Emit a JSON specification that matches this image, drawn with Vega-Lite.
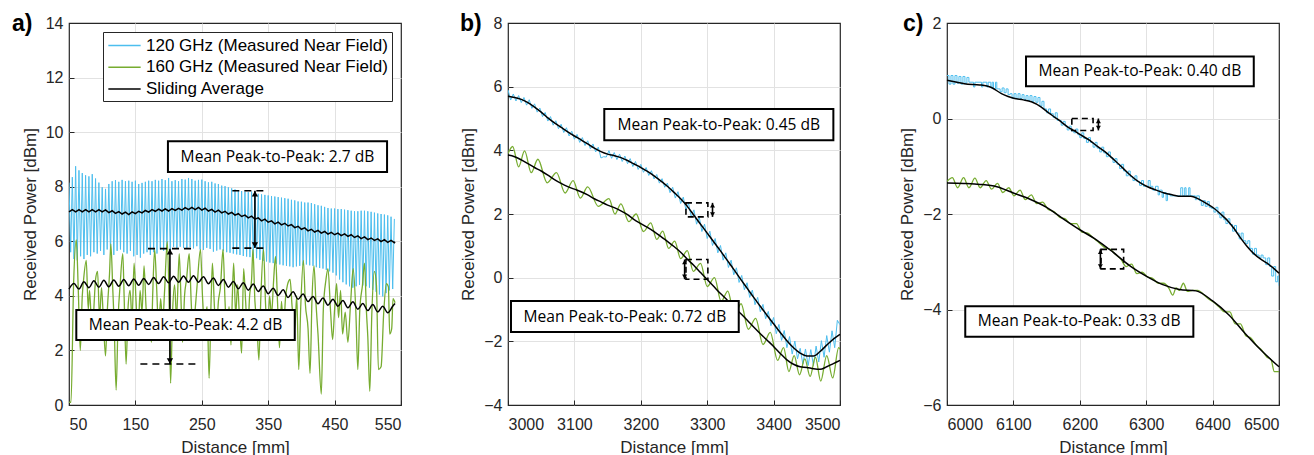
{
"$schema":"https://vega.github.io/schema/vega-lite/v6.json",
"padding":{"left":11,"top":11,"right":5,"bottom":5},
"bounds":"flush",
"spacing":107,
"resolve":{"scale":{"color":"independent"},"legend":{"color":"independent"}},
"datasets":{
"a_b":[{"d":50,"p":8.15},{"d":52.5,"p":5.6},{"d":55,"p":8.35},{"d":57.5,"p":5.35},{"d":60,"p":8.75},{"d":62.5,"p":5.3},{"d":65,"p":8.6},{"d":67.5,"p":5.45},{"d":70,"p":8.5},{"d":72.5,"p":5.35},{"d":75,"p":8.42},{"d":77.5,"p":5.5},{"d":80,"p":8.38},{"d":82.5,"p":5.45},{"d":85,"p":8.46},{"d":87.5,"p":5.6},{"d":90,"p":8.3},{"d":92.5,"p":5.55},{"d":95,"p":8.15},{"d":97.5,"p":5.65},{"d":100,"p":7.98},{"d":102.5,"p":5.5},{"d":105,"p":7.92},{"d":107.5,"p":5.7},{"d":110,"p":8.1},{"d":112.5,"p":5.6},{"d":115,"p":8.2},{"d":117.5,"p":5.5},{"d":120,"p":8.24},{"d":122.5,"p":5.65},{"d":125,"p":8.18},{"d":127.5,"p":5.7},{"d":130,"p":8.25},{"d":132.5,"p":5.6},{"d":135,"p":8.2},{"d":137.5,"p":5.55},{"d":140,"p":8.22},{"d":142.5,"p":5.65},{"d":145,"p":8.18},{"d":147.5,"p":5.45},{"d":150,"p":8.22},{"d":152.5,"p":5.5},{"d":155,"p":8.1},{"d":157.5,"p":5.4},{"d":160,"p":8.14},{"d":162.5,"p":5.55},{"d":165,"p":8.18},{"d":167.5,"p":5.6},{"d":170,"p":8.22},{"d":172.5,"p":5.5},{"d":175,"p":8.2},{"d":177.5,"p":5.6},{"d":180,"p":8.25},{"d":182.5,"p":5.55},{"d":185,"p":8.22},{"d":187.5,"p":5.7},{"d":190,"p":8.28},{"d":192.5,"p":5.65},{"d":195,"p":8.24},{"d":197.5,"p":5.75},{"d":200,"p":8.32},{"d":202.5,"p":5.7},{"d":205,"p":8.2},{"d":207.5,"p":5.8},{"d":210,"p":8.24},{"d":212.5,"p":5.75},{"d":215,"p":8.2},{"d":217.5,"p":5.8},{"d":220,"p":8.28},{"d":222.5,"p":5.75},{"d":225,"p":8.26},{"d":227.5,"p":5.72},{"d":230,"p":8.32},{"d":232.5,"p":5.78},{"d":235,"p":8.28},{"d":237.5,"p":5.74},{"d":240,"p":8.22},{"d":242.5,"p":5.82},{"d":245,"p":8.25},{"d":247.5,"p":5.7},{"d":250,"p":8.26},{"d":252.5,"p":5.68},{"d":255,"p":8.2},{"d":257.5,"p":5.76},{"d":260,"p":8.16},{"d":262.5,"p":5.72},{"d":265,"p":8.18},{"d":267.5,"p":5.62},{"d":270,"p":8.12},{"d":272.5,"p":5.66},{"d":275,"p":8.1},{"d":277.5,"p":5.7},{"d":280,"p":8.04},{"d":282.5,"p":5.64},{"d":285,"p":8.02},{"d":287.5,"p":5.6},{"d":290,"p":7.98},{"d":292.5,"p":5.58},{"d":295,"p":7.94},{"d":297.5,"p":5.55},{"d":300,"p":7.9},{"d":302.5,"p":5.52},{"d":305,"p":7.86},{"d":307.5,"p":5.5},{"d":310,"p":7.84},{"d":312.5,"p":5.46},{"d":315,"p":7.82},{"d":317.5,"p":5.44},{"d":320,"p":7.8},{"d":322.5,"p":5.42},{"d":325,"p":7.82},{"d":327.5,"p":5.45},{"d":330,"p":7.78},{"d":332.5,"p":5.38},{"d":335,"p":7.74},{"d":337.5,"p":5.32},{"d":340,"p":7.72},{"d":342.5,"p":5.28},{"d":345,"p":7.7},{"d":347.5,"p":5.26},{"d":350,"p":7.68},{"d":352.5,"p":5.22},{"d":355,"p":7.66},{"d":357.5,"p":5.2},{"d":360,"p":7.64},{"d":362.5,"p":5.18},{"d":365,"p":7.62},{"d":367.5,"p":5.15},{"d":370,"p":7.6},{"d":372.5,"p":5.12},{"d":375,"p":7.58},{"d":377.5,"p":5.1},{"d":380,"p":7.56},{"d":382.5,"p":5.08},{"d":385,"p":7.52},{"d":387.5,"p":5.05},{"d":390,"p":7.5},{"d":392.5,"p":5.08},{"d":395,"p":7.46},{"d":397.5,"p":5.1},{"d":400,"p":7.45},{"d":402.5,"p":5.12},{"d":405,"p":7.42},{"d":407.5,"p":5.15},{"d":410,"p":7.42},{"d":412.5,"p":5.12},{"d":415,"p":7.4},{"d":417.5,"p":5.1},{"d":420,"p":7.36},{"d":422.5,"p":5.05},{"d":425,"p":7.32},{"d":427.5,"p":5.02},{"d":430,"p":7.3},{"d":432.5,"p":5.0},{"d":435,"p":7.26},{"d":437.5,"p":4.95},{"d":440,"p":7.22},{"d":442.5,"p":4.9},{"d":445,"p":7.2},{"d":447.5,"p":4.85},{"d":450,"p":7.2},{"d":452.5,"p":4.75},{"d":455,"p":7.18},{"d":457.5,"p":4.6},{"d":460,"p":7.18},{"d":462.5,"p":4.5},{"d":465,"p":7.16},{"d":467.5,"p":4.42},{"d":470,"p":7.14},{"d":472.5,"p":4.35},{"d":475,"p":7.12},{"d":477.5,"p":4.3},{"d":480,"p":7.1},{"d":482.5,"p":4.35},{"d":485,"p":7.1},{"d":487.5,"p":4.4},{"d":490,"p":7.12},{"d":492.5,"p":4.38},{"d":495,"p":7.12},{"d":497.5,"p":4.35},{"d":500,"p":7.1},{"d":502.5,"p":4.3},{"d":505,"p":7.08},{"d":507.5,"p":4.22},{"d":510,"p":7.05},{"d":512.5,"p":4.15},{"d":515,"p":7.02},{"d":517.5,"p":4.05},{"d":520,"p":7.0},{"d":522.5,"p":3.98},{"d":525,"p":6.98},{"d":527.5,"p":4.1},{"d":530,"p":6.95},{"d":532.5,"p":4.2},{"d":535,"p":6.9},{"d":537.5,"p":4.25},{"d":540,"p":6.82}],
"a_k1":[{"d":50,"p":7.08},{"d":55,"p":7.16},{"d":60,"p":7.08},{"d":65,"p":7.16},{"d":70,"p":7.08},{"d":75,"p":7.16},{"d":80,"p":7.08},{"d":85,"p":7.16},{"d":90,"p":7.08},{"d":95,"p":7.16},{"d":100,"p":7.08},{"d":105,"p":7.15},{"d":110,"p":7.05},{"d":115,"p":7.12},{"d":120,"p":7.02},{"d":125,"p":7.09},{"d":130,"p":7.0},{"d":135,"p":7.07},{"d":140,"p":6.98},{"d":145,"p":7.08},{"d":150,"p":7.01},{"d":155,"p":7.1},{"d":160,"p":7.04},{"d":165,"p":7.13},{"d":170,"p":7.07},{"d":175,"p":7.16},{"d":180,"p":7.1},{"d":185,"p":7.18},{"d":190,"p":7.11},{"d":195,"p":7.19},{"d":200,"p":7.11},{"d":205,"p":7.2},{"d":210,"p":7.13},{"d":215,"p":7.21},{"d":220,"p":7.14},{"d":225,"p":7.23},{"d":230,"p":7.16},{"d":235,"p":7.24},{"d":240,"p":7.16},{"d":245,"p":7.24},{"d":250,"p":7.14},{"d":255,"p":7.21},{"d":260,"p":7.11},{"d":265,"p":7.17},{"d":270,"p":7.07},{"d":275,"p":7.14},{"d":280,"p":7.04},{"d":285,"p":7.1},{"d":290,"p":7.0},{"d":295,"p":7.06},{"d":300,"p":6.96},{"d":305,"p":7.01},{"d":310,"p":6.91},{"d":315,"p":6.96},{"d":320,"p":6.86},{"d":325,"p":6.92},{"d":330,"p":6.81},{"d":335,"p":6.86},{"d":340,"p":6.75},{"d":345,"p":6.81},{"d":350,"p":6.7},{"d":355,"p":6.75},{"d":360,"p":6.64},{"d":365,"p":6.7},{"d":370,"p":6.6},{"d":375,"p":6.66},{"d":380,"p":6.56},{"d":385,"p":6.61},{"d":390,"p":6.5},{"d":395,"p":6.55},{"d":400,"p":6.44},{"d":405,"p":6.49},{"d":410,"p":6.38},{"d":415,"p":6.44},{"d":420,"p":6.34},{"d":425,"p":6.4},{"d":430,"p":6.3},{"d":435,"p":6.36},{"d":440,"p":6.26},{"d":445,"p":6.33},{"d":450,"p":6.24},{"d":455,"p":6.3},{"d":460,"p":6.21},{"d":465,"p":6.27},{"d":470,"p":6.18},{"d":475,"p":6.24},{"d":480,"p":6.14},{"d":485,"p":6.2},{"d":490,"p":6.1},{"d":495,"p":6.16},{"d":500,"p":6.06},{"d":505,"p":6.12},{"d":510,"p":6.03},{"d":515,"p":6.09},{"d":520,"p":5.99},{"d":525,"p":6.06},{"d":530,"p":5.96},{"d":535,"p":6.03},{"d":540,"p":5.95},{"d":541,"p":5.98}],
"a_g":[{"d":50,"p":0.1},{"d":53,"p":0.1},{"d":57,"p":4.5},{"d":61,"p":6.05},{"d":64,"p":4.2},{"d":67,"p":2.0},{"d":70,"p":4.0},{"d":72,"p":4.6},{"d":76,"p":5.3},{"d":79,"p":3.5},{"d":81,"p":4.2},{"d":85,"p":2.4},{"d":88,"p":3.8},{"d":90,"p":4.6},{"d":93,"p":4.9},{"d":96,"p":3.2},{"d":99,"p":4.3},{"d":102,"p":3.0},{"d":105,"p":1.8},{"d":108,"p":3.6},{"d":111,"p":4.8},{"d":113,"p":5.9},{"d":116,"p":4.2},{"d":118,"p":3.0},{"d":121,"p":0.55},{"d":124,"p":3.2},{"d":127,"p":4.4},{"d":131,"p":5.55},{"d":133,"p":4.0},{"d":136,"p":1.5},{"d":139,"p":3.6},{"d":142,"p":4.2},{"d":145,"p":3.1},{"d":148,"p":5.2},{"d":151,"p":3.8},{"d":154,"p":2.4},{"d":157,"p":4.2},{"d":160,"p":3.4},{"d":163,"p":5.1},{"d":166,"p":3.6},{"d":169,"p":2.6},{"d":172,"p":3.4},{"d":174,"p":2.3},{"d":176,"p":4.0},{"d":179,"p":5.7},{"d":182,"p":4.3},{"d":185,"p":2.7},{"d":188,"p":3.9},{"d":191,"p":3.0},{"d":194,"p":4.2},{"d":198,"p":6.0},{"d":201,"p":3.5},{"d":203,"p":0.8},{"d":206,"p":3.4},{"d":209,"p":4.4},{"d":212,"p":3.2},{"d":216,"p":5.55},{"d":219,"p":3.6},{"d":221,"p":2.3},{"d":224,"p":4.0},{"d":227,"p":4.6},{"d":231,"p":5.55},{"d":234,"p":3.8},{"d":237,"p":2.4},{"d":240,"p":3.5},{"d":243,"p":4.4},{"d":248,"p":5.7},{"d":251,"p":4.0},{"d":254,"p":3.0},{"d":258,"p":3.6},{"d":261,"p":0.98},{"d":264,"p":3.8},{"d":266,"p":5.2},{"d":269,"p":3.6},{"d":272,"p":2.7},{"d":275,"p":3.8},{"d":278,"p":4.3},{"d":282,"p":5.7},{"d":285,"p":3.8},{"d":288,"p":2.4},{"d":291,"p":3.6},{"d":294,"p":2.2},{"d":296,"p":4.0},{"d":298,"p":5.2},{"d":301,"p":3.3},{"d":304,"p":4.4},{"d":307,"p":3.0},{"d":310,"p":1.9},{"d":313,"p":5.0},{"d":316,"p":3.8},{"d":319,"p":2.6},{"d":322,"p":4.0},{"d":325,"p":4.6},{"d":327,"p":5.7},{"d":330,"p":3.8},{"d":333,"p":3.0},{"d":336,"p":1.65},{"d":339,"p":4.0},{"d":343,"p":5.7},{"d":346,"p":3.7},{"d":349,"p":2.4},{"d":352,"p":4.0},{"d":355,"p":3.3},{"d":358,"p":4.5},{"d":361,"p":5.45},{"d":364,"p":3.8},{"d":367,"p":2.1},{"d":370,"p":3.8},{"d":373,"p":2.7},{"d":376,"p":3.9},{"d":379,"p":4.4},{"d":383,"p":4.6},{"d":386,"p":3.6},{"d":390,"p":2.8},{"d":393,"p":4.0},{"d":396,"p":1.3},{"d":399,"p":3.6},{"d":403,"p":5.3},{"d":406,"p":3.7},{"d":410,"p":2.8},{"d":413,"p":1.16},{"d":416,"p":3.9},{"d":419,"p":5.1},{"d":422,"p":3.7},{"d":425,"p":2.6},{"d":430,"p":0.4},{"d":433,"p":3.5},{"d":437,"p":4.6},{"d":440,"p":5.0},{"d":444,"p":3.4},{"d":447,"p":2.4},{"d":450,"p":3.5},{"d":453,"p":4.45},{"d":456,"p":3.2},{"d":459,"p":4.2},{"d":462,"p":2.6},{"d":466,"p":3.4},{"d":470,"p":2.3},{"d":474,"p":3.7},{"d":478,"p":5.0},{"d":482,"p":3.4},{"d":485,"p":1.3},{"d":488,"p":3.5},{"d":492,"p":4.4},{"d":495,"p":5.2},{"d":498,"p":3.4},{"d":500,"p":2.5},{"d":503,"p":0.5},{"d":506,"p":3.3},{"d":510,"p":4.9},{"d":513,"p":4.4},{"d":516,"p":1.3},{"d":520,"p":1.4},{"d":524,"p":3.4},{"d":528,"p":4.45},{"d":531,"p":4.33},{"d":533,"p":2.6},{"d":536,"p":2.8},{"d":538,"p":3.9},{"d":541,"p":3.75}],
"a_k2":[{"d":50,"p":4.25},{"d":57.5,"p":4.45},{"d":65,"p":4.25},{"d":72.5,"p":4.52},{"d":80,"p":4.3},{"d":87.5,"p":4.55},{"d":95,"p":4.32},{"d":102.5,"p":4.57},{"d":110,"p":4.33},{"d":117.5,"p":4.58},{"d":125,"p":4.35},{"d":132.5,"p":4.6},{"d":140,"p":4.37},{"d":147.5,"p":4.62},{"d":155,"p":4.39},{"d":162.5,"p":4.64},{"d":170,"p":4.42},{"d":177.5,"p":4.67},{"d":185,"p":4.45},{"d":192.5,"p":4.7},{"d":200,"p":4.48},{"d":207.5,"p":4.72},{"d":215,"p":4.5},{"d":222.5,"p":4.73},{"d":230,"p":4.5},{"d":237.5,"p":4.74},{"d":245,"p":4.5},{"d":252.5,"p":4.7},{"d":260,"p":4.44},{"d":267.5,"p":4.65},{"d":275,"p":4.38},{"d":282.5,"p":4.6},{"d":290,"p":4.32},{"d":297.5,"p":4.53},{"d":305,"p":4.26},{"d":312.5,"p":4.48},{"d":320,"p":4.21},{"d":327.5,"p":4.43},{"d":335,"p":4.16},{"d":342.5,"p":4.36},{"d":350,"p":4.08},{"d":357.5,"p":4.28},{"d":365,"p":4.01},{"d":372.5,"p":4.22},{"d":380,"p":3.94},{"d":387.5,"p":4.15},{"d":395,"p":3.88},{"d":402.5,"p":4.07},{"d":410,"p":3.79},{"d":417.5,"p":3.98},{"d":425,"p":3.71},{"d":432.5,"p":3.92},{"d":440,"p":3.66},{"d":447.5,"p":3.88},{"d":455,"p":3.62},{"d":462.5,"p":3.83},{"d":470,"p":3.56},{"d":477.5,"p":3.78},{"d":485,"p":3.51},{"d":492.5,"p":3.72},{"d":500,"p":3.46},{"d":507.5,"p":3.68},{"d":515,"p":3.41},{"d":522.5,"p":3.62},{"d":530,"p":3.38},{"d":537.5,"p":3.62},{"d":541,"p":3.72}],
"a_box":[{"x1":199,"x2":529,"y1":8.54,"y2":9.67,"xc":364,"yc":9.1,"t":"Mean Peak-to-Peak: 2.7 dB"},{"x1":61,"x2":390,"y1":2.38,"y2":3.48,"xc":225.5,"yc":2.93,"t":"Mean Peak-to-Peak: 4.2 dB"}],
"a_dash":[{"x1":296,"x2":349,"y":7.85},{"x1":296,"x2":349,"y":5.75},{"x1":169,"x2":240,"y":5.73},{"x1":157.5,"x2":247.6,"y":1.5}],
"a_arr":[{"x":330,"y1":7.85,"y2":5.75},{"x":202,"y1":5.73,"y2":1.5}],
"b_b":[{"d":3000,"p":5.9},{"d":3004,"p":5.58},{"d":3008,"p":5.77},{"d":3012,"p":5.55},{"d":3016,"p":5.72},{"d":3020,"p":5.5},{"d":3024,"p":5.66},{"d":3028,"p":5.42},{"d":3032,"p":5.59},{"d":3036,"p":5.32},{"d":3040,"p":5.46},{"d":3044,"p":5.2},{"d":3048,"p":5.33},{"d":3052,"p":5.06},{"d":3056,"p":5.19},{"d":3060,"p":4.92},{"d":3064,"p":5.06},{"d":3068,"p":4.79},{"d":3072,"p":4.93},{"d":3076,"p":4.68},{"d":3080,"p":4.82},{"d":3084,"p":4.56},{"d":3088,"p":4.71},{"d":3092,"p":4.45},{"d":3096,"p":4.6},{"d":3100,"p":4.35},{"d":3104,"p":4.5},{"d":3108,"p":4.25},{"d":3112,"p":4.4},{"d":3116,"p":4.15},{"d":3120,"p":4.3},{"d":3124,"p":4.05},{"d":3128,"p":4.2},{"d":3132,"p":3.95},{"d":3136,"p":4.1},{"d":3140,"p":3.76},{"d":3144,"p":3.8},{"d":3148,"p":3.79},{"d":3152,"p":3.99},{"d":3156,"p":3.75},{"d":3160,"p":3.93},{"d":3164,"p":3.71},{"d":3168,"p":3.88},{"d":3172,"p":3.65},{"d":3176,"p":3.82},{"d":3180,"p":3.58},{"d":3184,"p":3.74},{"d":3188,"p":3.49},{"d":3192,"p":3.65},{"d":3196,"p":3.4},{"d":3200,"p":3.56},{"d":3204,"p":3.31},{"d":3208,"p":3.46},{"d":3212,"p":3.21},{"d":3216,"p":3.36},{"d":3220,"p":3.1},{"d":3224,"p":3.24},{"d":3228,"p":2.97},{"d":3232,"p":3.11},{"d":3236,"p":2.84},{"d":3240,"p":2.97},{"d":3244,"p":2.67},{"d":3248,"p":2.84},{"d":3252,"p":2.5},{"d":3256,"p":2.7},{"d":3260,"p":2.33},{"d":3264,"p":2.53},{"d":3268,"p":2.13},{"d":3272,"p":2.34},{"d":3276,"p":1.9},{"d":3280,"p":2.13},{"d":3284,"p":1.68},{"d":3288,"p":1.91},{"d":3292,"p":1.45},{"d":3296,"p":1.68},{"d":3300,"p":1.23},{"d":3304,"p":1.46},{"d":3308,"p":1.01},{"d":3312,"p":1.23},{"d":3316,"p":0.78},{"d":3320,"p":1.01},{"d":3324,"p":0.55},{"d":3328,"p":0.78},{"d":3332,"p":0.32},{"d":3336,"p":0.55},{"d":3340,"p":0.09},{"d":3344,"p":0.31},{"d":3348,"p":-0.15},{"d":3352,"p":0.07},{"d":3356,"p":-0.38},{"d":3360,"p":-0.16},{"d":3364,"p":-0.62},{"d":3368,"p":-0.39},{"d":3372,"p":-0.85},{"d":3376,"p":-0.62},{"d":3380,"p":-1.07},{"d":3384,"p":-0.84},{"d":3388,"p":-1.29},{"d":3392,"p":-1.06},{"d":3396,"p":-1.51},{"d":3400,"p":-1.25},{"d":3404,"p":-1.76},{"d":3408,"p":-1.47},{"d":3412,"p":-1.97},{"d":3416,"p":-1.66},{"d":3420,"p":-2.2},{"d":3424,"p":-1.85},{"d":3428,"p":-2.4},{"d":3432,"p":-1.99},{"d":3436,"p":-2.55},{"d":3440,"p":-2.22},{"d":3444,"p":-2.71},{"d":3448,"p":-2.24},{"d":3452,"p":-2.76},{"d":3456,"p":-2.26},{"d":3460,"p":-2.76},{"d":3464,"p":-2.15},{"d":3468,"p":-2.65},{"d":3472,"p":-1.98},{"d":3476,"p":-2.5},{"d":3480,"p":-1.82},{"d":3484,"p":-2.34},{"d":3488,"p":-1.67},{"d":3492,"p":-2.2},{"d":3496,"p":-1.34},{"d":3500,"p":-1.48}],
"b_k1":[{"d":3000,"p":5.7},{"d":3010,"p":5.66},{"d":3020,"p":5.6},{"d":3030,"p":5.5},{"d":3040,"p":5.36},{"d":3050,"p":5.2},{"d":3060,"p":5.02},{"d":3070,"p":4.86},{"d":3080,"p":4.72},{"d":3090,"p":4.58},{"d":3100,"p":4.45},{"d":3110,"p":4.33},{"d":3120,"p":4.2},{"d":3130,"p":4.07},{"d":3140,"p":3.96},{"d":3150,"p":3.88},{"d":3160,"p":3.83},{"d":3170,"p":3.77},{"d":3180,"p":3.68},{"d":3190,"p":3.57},{"d":3200,"p":3.46},{"d":3210,"p":3.34},{"d":3220,"p":3.2},{"d":3230,"p":3.04},{"d":3240,"p":2.87},{"d":3250,"p":2.68},{"d":3260,"p":2.48},{"d":3270,"p":2.24},{"d":3280,"p":1.96},{"d":3290,"p":1.68},{"d":3300,"p":1.4},{"d":3310,"p":1.12},{"d":3320,"p":0.84},{"d":3330,"p":0.55},{"d":3340,"p":0.26},{"d":3350,"p":-0.04},{"d":3360,"p":-0.33},{"d":3370,"p":-0.62},{"d":3380,"p":-0.9},{"d":3390,"p":-1.18},{"d":3400,"p":-1.45},{"d":3410,"p":-1.72},{"d":3420,"p":-1.98},{"d":3430,"p":-2.2},{"d":3440,"p":-2.37},{"d":3450,"p":-2.46},{"d":3460,"p":-2.46},{"d":3470,"p":-2.32},{"d":3480,"p":-2.12},{"d":3490,"p":-1.93},{"d":3500,"p":-1.78}],
"b_g":[{"d":3000,"p":3.9},{"d":3007,"p":4.12},{"d":3016,"p":3.48},{"d":3025,"p":3.98},{"d":3035,"p":3.3},{"d":3045,"p":3.72},{"d":3059,"p":2.98},{"d":3073,"p":3.3},{"d":3086,"p":2.66},{"d":3098,"p":3.05},{"d":3109,"p":2.5},{"d":3120,"p":2.85},{"d":3136,"p":2.24},{"d":3152,"p":2.48},{"d":3161,"p":2.0},{"d":3170,"p":2.32},{"d":3182,"p":1.76},{"d":3193,"p":2.0},{"d":3204,"p":1.45},{"d":3215,"p":1.72},{"d":3224,"p":1.2},{"d":3233,"p":1.46},{"d":3242,"p":0.92},{"d":3251,"p":1.15},{"d":3260,"p":0.6},{"d":3270,"p":0.85},{"d":3279,"p":0.2},{"d":3290,"p":0.45},{"d":3300,"p":-0.28},{"d":3311,"p":0.0},{"d":3321,"p":-0.75},{"d":3331,"p":-0.42},{"d":3341,"p":-1.18},{"d":3351,"p":-0.82},{"d":3362,"p":-1.62},{"d":3373,"p":-1.28},{"d":3384,"p":-2.1},{"d":3395,"p":-1.72},{"d":3406,"p":-2.6},{"d":3415,"p":-2.2},{"d":3423,"p":-2.95},{"d":3431,"p":-2.45},{"d":3439,"p":-3.05},{"d":3447,"p":-2.55},{"d":3455,"p":-3.1},{"d":3463,"p":-2.5},{"d":3471,"p":-3.25},{"d":3480,"p":-2.45},{"d":3489,"p":-3.15},{"d":3498,"p":-2.2},{"d":3500,"p":-2.25}],
"b_k2":[{"d":3000,"p":3.85},{"d":3010,"p":3.8},{"d":3020,"p":3.7},{"d":3030,"p":3.58},{"d":3040,"p":3.46},{"d":3050,"p":3.35},{"d":3060,"p":3.22},{"d":3070,"p":3.08},{"d":3080,"p":2.96},{"d":3090,"p":2.86},{"d":3100,"p":2.78},{"d":3110,"p":2.7},{"d":3120,"p":2.6},{"d":3130,"p":2.48},{"d":3140,"p":2.38},{"d":3150,"p":2.28},{"d":3160,"p":2.2},{"d":3170,"p":2.1},{"d":3180,"p":1.98},{"d":3190,"p":1.82},{"d":3200,"p":1.7},{"d":3210,"p":1.58},{"d":3220,"p":1.45},{"d":3230,"p":1.3},{"d":3240,"p":1.14},{"d":3250,"p":0.98},{"d":3260,"p":0.8},{"d":3270,"p":0.58},{"d":3280,"p":0.38},{"d":3290,"p":0.16},{"d":3300,"p":-0.06},{"d":3310,"p":-0.28},{"d":3320,"p":-0.5},{"d":3330,"p":-0.7},{"d":3340,"p":-0.92},{"d":3350,"p":-1.12},{"d":3360,"p":-1.33},{"d":3370,"p":-1.55},{"d":3380,"p":-1.76},{"d":3390,"p":-1.96},{"d":3400,"p":-2.16},{"d":3410,"p":-2.38},{"d":3420,"p":-2.58},{"d":3430,"p":-2.72},{"d":3440,"p":-2.8},{"d":3450,"p":-2.82},{"d":3460,"p":-2.86},{"d":3470,"p":-2.88},{"d":3480,"p":-2.8},{"d":3490,"p":-2.7},{"d":3500,"p":-2.6}],
"b_box":[{"x1":3145,"x2":3490,"y1":4.32,"y2":5.3,"xc":3317.5,"yc":4.81,"t":"Mean Peak-to-Peak: 0.45 dB"},{"x1":3004.5,"x2":3347.5,"y1":-1.71,"y2":-0.73,"xc":3176,"yc":-1.22,"t":"Mean Peak-to-Peak: 0.72 dB"}],
"b_dbox":[{"x1":3268,"x2":3301,"y1":1.91,"y2":2.35},{"x1":3268,"x2":3301,"y1":-0.05,"y2":0.57}],
"b_arr":[{"x":3308,"y1":2.35,"y2":1.91},{"x":3266,"y1":0.57,"y2":-0.05}],
"c_b":[{"d":6000,"p":0.9},{"d":6003,"p":0.72},{"d":6006,"p":0.9},{"d":6009,"p":0.72},{"d":6012,"p":0.9},{"d":6015,"p":0.74},{"d":6018,"p":0.88},{"d":6021,"p":0.72},{"d":6024,"p":0.88},{"d":6027,"p":0.74},{"d":6030,"p":0.86},{"d":6033,"p":0.76},{"d":6040,"p":0.66},{"d":6042,"p":0.76},{"d":6052,"p":0.66},{"d":6054,"p":0.76},{"d":6060,"p":0.66},{"d":6062,"p":0.76},{"d":6066,"p":0.64},{"d":6068,"p":0.76},{"d":6070,"p":0.62},{"d":6073,"p":0.76},{"d":6075,"p":0.62},{"d":6080,"p":0.56},{"d":6083,"p":0.64},{"d":6086,"p":0.54},{"d":6089,"p":0.62},{"d":6092,"p":0.5},{"d":6095,"p":0.52},{"d":6098,"p":0.42},{"d":6101,"p":0.52},{"d":6104,"p":0.42},{"d":6107,"p":0.52},{"d":6110,"p":0.42},{"d":6113,"p":0.5},{"d":6116,"p":0.4},{"d":6119,"p":0.48},{"d":6122,"p":0.38},{"d":6125,"p":0.48},{"d":6128,"p":0.36},{"d":6131,"p":0.46},{"d":6134,"p":0.34},{"d":6137,"p":0.44},{"d":6140,"p":0.26},{"d":6143,"p":0.36},{"d":6146,"p":0.2},{"d":6150,"p":0.12},{"d":6153,"p":0.2},{"d":6156,"p":0.1},{"d":6160,"p":0.02},{"d":6163,"p":0.12},{"d":6166,"p":-0.04},{"d":6170,"p":-0.04},{"d":6172,"p":-0.14},{"d":6175,"p":-0.06},{"d":6178,"p":-0.16},{"d":6181,"p":-0.24},{"d":6184,"p":-0.16},{"d":6187,"p":-0.26},{"d":6191,"p":-0.3},{"d":6194,"p":-0.22},{"d":6197,"p":-0.34},{"d":6200,"p":-0.4},{"d":6203,"p":-0.3},{"d":6206,"p":-0.42},{"d":6210,"p":-0.5},{"d":6213,"p":-0.4},{"d":6216,"p":-0.5},{"d":6220,"p":-0.6},{"d":6223,"p":-0.5},{"d":6226,"p":-0.62},{"d":6230,"p":-0.7},{"d":6233,"p":-0.6},{"d":6236,"p":-0.72},{"d":6240,"p":-0.8},{"d":6243,"p":-0.7},{"d":6246,"p":-0.82},{"d":6250,"p":-0.92},{"d":6253,"p":-0.84},{"d":6256,"p":-0.96},{"d":6260,"p":-1.05},{"d":6263,"p":-0.96},{"d":6266,"p":-1.1},{"d":6270,"p":-1.2},{"d":6273,"p":-1.1},{"d":6276,"p":-1.22},{"d":6280,"p":-1.3},{"d":6283,"p":-1.2},{"d":6286,"p":-1.32},{"d":6290,"p":-1.4},{"d":6293,"p":-1.3},{"d":6296,"p":-1.42},{"d":6300,"p":-1.42},{"d":6303,"p":-1.3},{"d":6306,"p":-1.42},{"d":6310,"p":-1.5},{"d":6314,"p":-1.42},{"d":6318,"p":-1.6},{"d":6320,"p":-1.5},{"d":6324,"p":-1.65},{"d":6326,"p":-1.55},{"d":6330,"p":-1.72},{"d":6332,"p":-1.58},{"d":6336,"p":-1.62},{"d":6348,"p":-1.62},{"d":6352,"p":-1.45},{"d":6355,"p":-1.62},{"d":6358,"p":-1.45},{"d":6360,"p":-1.62},{"d":6364,"p":-1.45},{"d":6366,"p":-1.62},{"d":6374,"p":-1.7},{"d":6376,"p":-1.62},{"d":6380,"p":-1.72},{"d":6383,"p":-1.82},{"d":6386,"p":-1.72},{"d":6389,"p":-1.84},{"d":6392,"p":-1.74},{"d":6395,"p":-1.86},{"d":6398,"p":-1.88},{"d":6402,"p":-1.96},{"d":6405,"p":-1.86},{"d":6408,"p":-2.0},{"d":6411,"p":-2.08},{"d":6414,"p":-1.96},{"d":6417,"p":-2.12},{"d":6420,"p":-2.2},{"d":6423,"p":-2.1},{"d":6426,"p":-2.22},{"d":6430,"p":-2.36},{"d":6433,"p":-2.24},{"d":6436,"p":-2.4},{"d":6440,"p":-2.52},{"d":6443,"p":-2.4},{"d":6446,"p":-2.56},{"d":6450,"p":-2.62},{"d":6453,"p":-2.56},{"d":6456,"p":-2.72},{"d":6460,"p":-2.84},{"d":6463,"p":-2.72},{"d":6466,"p":-2.86},{"d":6470,"p":-2.92},{"d":6473,"p":-2.86},{"d":6476,"p":-2.92},{"d":6480,"p":-3.06},{"d":6483,"p":-2.92},{"d":6486,"p":-3.1},{"d":6489,"p":-3.3},{"d":6492,"p":-3.1},{"d":6495,"p":-3.42},{"d":6498,"p":-3.3},{"d":6500,"p":-3.5}],
"c_k1":[{"d":6000,"p":0.8},{"d":6015,"p":0.76},{"d":6026,"p":0.73},{"d":6040,"p":0.71},{"d":6052,"p":0.7},{"d":6067,"p":0.65},{"d":6082,"p":0.52},{"d":6092,"p":0.46},{"d":6102,"p":0.42},{"d":6115,"p":0.39},{"d":6127,"p":0.35},{"d":6142,"p":0.24},{"d":6152,"p":0.13},{"d":6162,"p":0.03},{"d":6172,"p":-0.07},{"d":6182,"p":-0.18},{"d":6192,"p":-0.26},{"d":6202,"p":-0.35},{"d":6215,"p":-0.46},{"d":6227,"p":-0.59},{"d":6240,"p":-0.72},{"d":6252,"p":-0.87},{"d":6265,"p":-1.04},{"d":6277,"p":-1.2},{"d":6290,"p":-1.34},{"d":6302,"p":-1.43},{"d":6315,"p":-1.5},{"d":6327,"p":-1.56},{"d":6340,"p":-1.6},{"d":6352,"p":-1.63},{"d":6367,"p":-1.63},{"d":6382,"p":-1.71},{"d":6392,"p":-1.79},{"d":6402,"p":-1.88},{"d":6412,"p":-2.0},{"d":6422,"p":-2.13},{"d":6432,"p":-2.3},{"d":6442,"p":-2.5},{"d":6452,"p":-2.68},{"d":6462,"p":-2.83},{"d":6472,"p":-2.94},{"d":6482,"p":-3.03},{"d":6492,"p":-3.14},{"d":6500,"p":-3.24}],
"c_g":[{"d":6000,"p":-1.32},{"d":6008,"p":-1.24},{"d":6016,"p":-1.45},{"d":6025,"p":-1.24},{"d":6033,"p":-1.45},{"d":6042,"p":-1.25},{"d":6050,"p":-1.45},{"d":6059,"p":-1.3},{"d":6067,"p":-1.48},{"d":6076,"p":-1.36},{"d":6084,"p":-1.55},{"d":6093,"p":-1.45},{"d":6101,"p":-1.62},{"d":6110,"p":-1.5},{"d":6118,"p":-1.7},{"d":6127,"p":-1.6},{"d":6135,"p":-1.78},{"d":6144,"p":-1.75},{"d":6152,"p":-1.9},{"d":6161,"p":-1.95},{"d":6170,"p":-2.07},{"d":6178,"p":-2.1},{"d":6186,"p":-2.2},{"d":6195,"p":-2.2},{"d":6203,"p":-2.38},{"d":6212,"p":-2.4},{"d":6220,"p":-2.5},{"d":6229,"p":-2.6},{"d":6237,"p":-2.7},{"d":6246,"p":-2.74},{"d":6254,"p":-2.85},{"d":6262,"p":-2.95},{"d":6270,"p":-3.1},{"d":6278,"p":-3.05},{"d":6286,"p":-3.25},{"d":6294,"p":-3.22},{"d":6302,"p":-3.32},{"d":6310,"p":-3.35},{"d":6318,"p":-3.45},{"d":6326,"p":-3.45},{"d":6334,"p":-3.55},{"d":6340,"p":-3.7},{"d":6345,"p":-3.55},{"d":6350,"p":-3.6},{"d":6356,"p":-3.45},{"d":6362,"p":-3.62},{"d":6370,"p":-3.6},{"d":6378,"p":-3.6},{"d":6386,"p":-3.68},{"d":6394,"p":-3.78},{"d":6402,"p":-3.85},{"d":6410,"p":-3.95},{"d":6418,"p":-4.05},{"d":6426,"p":-4.05},{"d":6434,"p":-4.3},{"d":6442,"p":-4.3},{"d":6450,"p":-4.55},{"d":6458,"p":-4.6},{"d":6466,"p":-4.75},{"d":6474,"p":-4.85},{"d":6482,"p":-5.0},{"d":6488,"p":-5.05},{"d":6493,"p":-5.3},{"d":6500,"p":-5.3}],
"c_k2":[{"d":6000,"p":-1.35},{"d":6025,"p":-1.36},{"d":6050,"p":-1.38},{"d":6075,"p":-1.43},{"d":6100,"p":-1.56},{"d":6125,"p":-1.69},{"d":6150,"p":-1.86},{"d":6175,"p":-2.1},{"d":6200,"p":-2.33},{"d":6225,"p":-2.54},{"d":6250,"p":-2.8},{"d":6275,"p":-3.08},{"d":6300,"p":-3.3},{"d":6325,"p":-3.48},{"d":6350,"p":-3.58},{"d":6375,"p":-3.61},{"d":6400,"p":-3.82},{"d":6425,"p":-4.12},{"d":6450,"p":-4.52},{"d":6475,"p":-4.88},{"d":6500,"p":-5.2}],
"c_box":[{"x1":6119,"x2":6462,"y1":0.675,"y2":1.3,"xc":6290.5,"yc":0.99,"t":"Mean Peak-to-Peak: 0.40 dB"},{"x1":6027.5,"x2":6371,"y1":-4.57,"y2":-3.93,"xc":6199,"yc":-4.25,"t":"Mean Peak-to-Peak: 0.33 dB"}],
"c_dbox":[{"x1":6188,"x2":6220,"y1":-0.25,"y2":0.0},{"x1":6232,"x2":6266,"y1":-3.15,"y2":-2.74}],
"c_arr":[{"x":6228,"y1":0.0,"y2":-0.25},{"x":6231,"y1":-2.74,"y2":-3.15}]
},
"hconcat":[
{"width":332,"height":382,
"title":{"text":"a)","dx":-57},
"layer":[
{"data":{"name":"a_b"},"mark":{"type":"line","strokeWidth":1,"clip":true},"encoding":{
"x":{"field":"d","type":"quantitative","scale":{"domain":[50,550],"nice":false,"zero":false},"axis":{"values":[50,150,250,350,450,550],"format":"d","title":"Distance [mm]","gridColor":{"condition":{"test":"datum.value==50||datum.value==550","value":"transparent"},"value":"#e2e2e2"}}},
"y":{"field":"p","type":"quantitative","scale":{"domain":[0,14],"nice":false,"zero":false},"axis":{"values":[0,2,4,6,8,10,12,14],"format":"d","title":"Received Power [dBm]","gridColor":{"condition":{"test":"datum.value==0||datum.value==14","value":"transparent"},"value":"#e2e2e2"}}},
"color":{"datum":"120 GHz (Measured Near Field)","scale":{"domain":["120 GHz (Measured Near Field)","160 GHz (Measured Near Field)","Sliding Average"],"range":["#4DBEEE","#77AC30","#000000"]},"legend":{"title":null,"orient":"top-right","offset":9}}}},
{"data":{"name":"a_g"},"mark":{"type":"line","strokeWidth":1.3,"interpolate":"monotone","clip":true},"encoding":{"x":{"field":"d","type":"quantitative"},"y":{"field":"p","type":"quantitative"},"color":{"datum":"160 GHz (Measured Near Field)"}}},
{"data":{"name":"a_k1"},"mark":{"type":"line","strokeWidth":1.5},"encoding":{"x":{"field":"d","type":"quantitative"},"y":{"field":"p","type":"quantitative"},"color":{"datum":"Sliding Average"}}},
{"data":{"name":"a_k2"},"mark":{"type":"line","strokeWidth":1.5,"interpolate":"monotone"},"encoding":{"x":{"field":"d","type":"quantitative"},"y":{"field":"p","type":"quantitative"},"color":{"datum":"Sliding Average"}}},
{"data":{"name":"a_dash"},"mark":{"type":"rule","strokeDash":[7,5],"strokeWidth":1.6,"color":"#000"},"encoding":{"x":{"field":"x1","type":"quantitative"},"x2":{"field":"x2"},"y":{"field":"y","type":"quantitative"}}},
{"data":{"name":"a_arr"},"mark":{"type":"rule","strokeWidth":1.6,"color":"#000"},"encoding":{"x":{"field":"x","type":"quantitative"},"y":{"field":"y1","type":"quantitative"},"y2":{"field":"y2"}}},
{"data":{"name":"a_arr"},"mark":{"type":"point","shape":"triangle-up","filled":true,"size":40,"color":"#000","opacity":1,"yOffset":3},"encoding":{"x":{"field":"x","type":"quantitative"},"y":{"field":"y1","type":"quantitative"}}},
{"data":{"name":"a_arr"},"mark":{"type":"point","shape":"triangle-down","filled":true,"size":40,"color":"#000","opacity":1,"yOffset":-3},"encoding":{"x":{"field":"x","type":"quantitative"},"y":{"field":"y2","type":"quantitative"}}},
{"data":{"name":"a_box"},"mark":{"type":"rect","fill":"white","stroke":"#000","strokeWidth":2},"encoding":{"x":{"field":"x1","type":"quantitative"},"x2":{"field":"x2"},"y":{"field":"y1","type":"quantitative"},"y2":{"field":"y2"}}},
{"data":{"name":"a_box"},"mark":{"type":"text","font":"Open Sans","fontSize":15.6,"color":"#000","align":"center","baseline":"middle"},"encoding":{"x":{"field":"xc","type":"quantitative"},"y":{"field":"yc","type":"quantitative"},"text":{"field":"t"}}}
]},
{"width":332,"height":382,
"title":{"text":"b)","dx":-48},
"layer":[
{"data":{"name":"b_b"},"mark":{"type":"line","strokeWidth":1,"color":"#4DBEEE","clip":true},"encoding":{
"x":{"field":"d","type":"quantitative","scale":{"domain":[3000,3500],"nice":false,"zero":false},"axis":{"values":[3000,3100,3200,3300,3400,3500],"format":"d","title":"Distance [mm]","gridColor":{"condition":{"test":"datum.value==3000||datum.value==3500","value":"transparent"},"value":"#e2e2e2"}}},
"y":{"field":"p","type":"quantitative","scale":{"domain":[-4,8],"nice":false,"zero":false},"axis":{"values":[-4,-2,0,2,4,6,8],"format":"d","title":"Received Power [dBm]","gridColor":{"condition":{"test":"datum.value==-4||datum.value==8","value":"transparent"},"value":"#e2e2e2"}}}}},
{"data":{"name":"b_g"},"mark":{"type":"line","strokeWidth":1.3,"color":"#77AC30","interpolate":"monotone","clip":true},"encoding":{"x":{"field":"d","type":"quantitative"},"y":{"field":"p","type":"quantitative"}}},
{"data":{"name":"b_k1"},"mark":{"type":"line","strokeWidth":1.5,"color":"#000","interpolate":"monotone"},"encoding":{"x":{"field":"d","type":"quantitative"},"y":{"field":"p","type":"quantitative"}}},
{"data":{"name":"b_k2"},"mark":{"type":"line","strokeWidth":1.5,"color":"#000","interpolate":"monotone"},"encoding":{"x":{"field":"d","type":"quantitative"},"y":{"field":"p","type":"quantitative"}}},
{"data":{"name":"b_dbox"},"mark":{"type":"rect","fill":null,"stroke":"#000","strokeWidth":1.6,"strokeDash":[6,4]},"encoding":{"x":{"field":"x1","type":"quantitative"},"x2":{"field":"x2"},"y":{"field":"y1","type":"quantitative"},"y2":{"field":"y2"}}},
{"data":{"name":"b_arr"},"mark":{"type":"rule","strokeWidth":1.6,"color":"#000"},"encoding":{"x":{"field":"x","type":"quantitative"},"y":{"field":"y1","type":"quantitative"},"y2":{"field":"y2"}}},
{"data":{"name":"b_arr"},"mark":{"type":"point","shape":"triangle-up","filled":true,"size":25,"color":"#000","opacity":1,"yOffset":2.5},"encoding":{"x":{"field":"x","type":"quantitative"},"y":{"field":"y1","type":"quantitative"}}},
{"data":{"name":"b_arr"},"mark":{"type":"point","shape":"triangle-down","filled":true,"size":25,"color":"#000","opacity":1,"yOffset":-2.5},"encoding":{"x":{"field":"x","type":"quantitative"},"y":{"field":"y2","type":"quantitative"}}},
{"data":{"name":"b_box"},"mark":{"type":"rect","fill":"white","stroke":"#000","strokeWidth":2},"encoding":{"x":{"field":"x1","type":"quantitative"},"x2":{"field":"x2"},"y":{"field":"y1","type":"quantitative"},"y2":{"field":"y2"}}},
{"data":{"name":"b_box"},"mark":{"type":"text","font":"Open Sans","fontSize":15.6,"color":"#000","align":"center","baseline":"middle"},"encoding":{"x":{"field":"xc","type":"quantitative"},"y":{"field":"yc","type":"quantitative"},"text":{"field":"t"}}}
]},
{"width":332,"height":382,
"title":{"text":"c)","dx":-44},
"layer":[
{"data":{"name":"c_b"},"mark":{"type":"line","strokeWidth":1,"color":"#4DBEEE","interpolate":"step-after","clip":true},"encoding":{
"x":{"field":"d","type":"quantitative","scale":{"domain":[6000,6500],"nice":false,"zero":false},"axis":{"values":[6000,6100,6200,6300,6400,6500],"format":"d","title":"Distance [mm]","gridColor":{"condition":{"test":"datum.value==6000||datum.value==6500","value":"transparent"},"value":"#e2e2e2"}}},
"y":{"field":"p","type":"quantitative","scale":{"domain":[-6,2],"nice":false,"zero":false},"axis":{"values":[-6,-4,-2,0,2],"format":"d","title":"Received Power [dBm]","gridColor":{"condition":{"test":"datum.value==-6||datum.value==2","value":"transparent"},"value":"#e2e2e2"}}}}},
{"data":{"name":"c_g"},"mark":{"type":"line","strokeWidth":1.3,"color":"#77AC30","interpolate":"monotone","clip":true},"encoding":{"x":{"field":"d","type":"quantitative"},"y":{"field":"p","type":"quantitative"}}},
{"data":{"name":"c_k1"},"mark":{"type":"line","strokeWidth":1.5,"color":"#000","interpolate":"monotone"},"encoding":{"x":{"field":"d","type":"quantitative"},"y":{"field":"p","type":"quantitative"}}},
{"data":{"name":"c_k2"},"mark":{"type":"line","strokeWidth":1.5,"color":"#000","interpolate":"monotone"},"encoding":{"x":{"field":"d","type":"quantitative"},"y":{"field":"p","type":"quantitative"}}},
{"data":{"name":"c_dbox"},"mark":{"type":"rect","fill":null,"stroke":"#000","strokeWidth":1.6,"strokeDash":[6,4]},"encoding":{"x":{"field":"x1","type":"quantitative"},"x2":{"field":"x2"},"y":{"field":"y1","type":"quantitative"},"y2":{"field":"y2"}}},
{"data":{"name":"c_arr"},"mark":{"type":"rule","strokeWidth":1.6,"color":"#000"},"encoding":{"x":{"field":"x","type":"quantitative"},"y":{"field":"y1","type":"quantitative"},"y2":{"field":"y2"}}},
{"data":{"name":"c_arr"},"mark":{"type":"point","shape":"triangle-up","filled":true,"size":25,"color":"#000","opacity":1,"yOffset":2.5},"encoding":{"x":{"field":"x","type":"quantitative"},"y":{"field":"y1","type":"quantitative"}}},
{"data":{"name":"c_arr"},"mark":{"type":"point","shape":"triangle-down","filled":true,"size":25,"color":"#000","opacity":1,"yOffset":-2.5},"encoding":{"x":{"field":"x","type":"quantitative"},"y":{"field":"y2","type":"quantitative"}}},
{"data":{"name":"c_box"},"mark":{"type":"rect","fill":"white","stroke":"#000","strokeWidth":2},"encoding":{"x":{"field":"x1","type":"quantitative"},"x2":{"field":"x2"},"y":{"field":"y1","type":"quantitative"},"y2":{"field":"y2"}}},
{"data":{"name":"c_box"},"mark":{"type":"text","font":"Open Sans","fontSize":15.6,"color":"#000","align":"center","baseline":"middle"},"encoding":{"x":{"field":"xc","type":"quantitative"},"y":{"field":"yc","type":"quantitative"},"text":{"field":"t"}}}
]}
],
"config":{
"view":{"stroke":"#262626","strokeWidth":1.2},
"title":{"anchor":"start","frame":"group","fontSize":23,"fontWeight":"bold","font":"Liberation Sans","color":"#000","baseline":"alphabetic","offset":0,"dy":24.5},
"axis":{"grid":true,"gridWidth":1,"domain":false,"ticks":true,"tickColor":"#262626","tickSize":-5,"labelFont":"Liberation Sans","labelFontSize":16,"labelColor":"#262626","titleFont":"Liberation Sans","titleFontSize":17,"titleFontWeight":"normal","titleColor":"#262626"},
"axisX":{"labelPadding":16,"titlePadding":7},
"axisY":{"labelPadding":11,"titlePadding":6},
"legend":{"orient":"top-right","offset":9,"fillColor":"white","strokeColor":"#262626","padding":4,"rowPadding":3.7,"labelFont":"Liberation Sans","labelFontSize":17,"labelColor":"#000","labelLimit":400,"symbolType":"M-1.9,0H1.9","symbolSize":289,"symbolOffset":8,"labelOffset":12,"symbolStrokeWidth":1.5}
}
}
